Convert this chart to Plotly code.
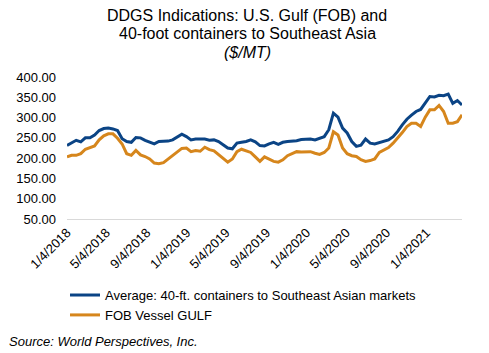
import pandas as pd
import plotly.graph_objects as go

# Biweekly observations starting 1/4/2018
start_date = "2018-01-04"
avg_se_asia = [
    231, 237, 244, 240, 250, 250, 257, 268, 273, 274, 272, 268, 248, 241, 239, 251,
    250, 244, 239, 235, 241, 241, 242, 245, 252, 259, 253, 245, 247, 247, 247, 244,
    245, 241, 234, 225, 223, 237, 239, 241, 245, 240, 231, 230, 235, 239, 234, 239,
    241, 242, 243, 246, 247, 247, 245, 250, 253, 270, 311, 301, 274, 262, 241, 229,
    232, 247, 237, 235, 238, 242, 245, 253, 266, 282, 296, 306, 315, 320, 335, 352,
    351, 355, 354, 358, 335, 342, 331,
]
fob_gulf = [
    203, 207, 207, 211, 222, 227, 230, 245, 255, 260, 260, 249, 235, 211, 207, 219,
    208, 204, 198, 188, 186, 189, 198, 207, 217, 224, 225, 216, 219, 217, 227, 221,
    218, 209, 198, 190, 198, 216, 222, 218, 214, 203, 192, 203, 198, 192, 190, 196,
    206, 212, 216, 215, 216, 216, 212, 209, 214, 225, 265, 257, 225, 211, 206, 204,
    196, 192, 194, 198, 214, 219, 226, 237, 249, 263, 278, 286, 286, 278, 301, 319,
    319, 330, 315, 286, 286, 290, 307,
]
dates = pd.date_range(start_date, periods=len(avg_se_asia), freq="14D")

tick_labels = ["1/4/2018", "5/4/2018", "9/4/2018", "1/4/2019", "5/4/2019",
               "9/4/2019", "1/4/2020", "5/4/2020", "9/4/2020", "1/4/2021"]
tick_dates = pd.to_datetime(tick_labels, format="%m/%d/%Y")
y_ticks = [50, 100, 150, 200, 250, 300, 350, 400]
title_lines = ["DDGS Indications: U.S. Gulf (FOB) and",
               "40-foot containers to Southeast Asia",
               "<i>($/MT)</i>"]

FONT = "Arial, Liberation Sans, sans-serif"
BLUE = "#0B4485"
ORANGE = "#D6861C"

fig = go.Figure()
fig.add_trace(go.Scatter(x=dates, y=avg_se_asia, mode="lines",
                         name="Average: 40-ft. containers to Southeast Asian markets",
                         line=dict(color=BLUE, width=3)))
fig.add_trace(go.Scatter(x=dates, y=fob_gulf, mode="lines",
                         name="FOB Vessel GULF",
                         line=dict(color=ORANGE, width=3)))

PLOT_TOP, PLOT_H, PLOT_L, PLOT_W = 77, 142, 67, 395
annotations = []
for txt, ypx in zip(title_lines, [15, 33.5, 52]):
    annotations.append(dict(
        text=txt, xref="paper", yref="paper",
        x=(247 - PLOT_L) / PLOT_W, xanchor="center",
        y=1 + (PLOT_TOP - ypx) / PLOT_H, yanchor="middle",
        showarrow=False,
        font=dict(family=FONT, size=16, color="#000000"),
    ))
annotations.append(dict(
    text="<i>Source: World Perspectives, Inc.</i>",
    xref="paper", yref="paper",
    x=-0.152, xanchor="left",
    y=-0.866, yanchor="middle",
    showarrow=False,
    font=dict(family=FONT, size=13, color="#000000"),
))

fig.update_layout(
    width=489, height=353,
    margin=dict(l=67, r=27, t=77, b=134),
    paper_bgcolor="white", plot_bgcolor="white",
    font=dict(family=FONT, size=13, color="#000000"),
    annotations=annotations,
    xaxis=dict(
        type="date",
        range=[dates[0], dates[-1]],
        tickvals=tick_dates, ticktext=tick_labels,
        tickangle=-45,
        showgrid=False, zeroline=False,
        showline=True, linecolor="#D9D9D9", linewidth=1,
        ticks="",
        tickfont=dict(size=13),
    ),
    yaxis=dict(
        range=[50, 400],
        tickvals=y_ticks, tickformat=".2f",
        showgrid=False, zeroline=False, showline=False,
        ticks="", ticklabelstandoff=10,
        tickfont=dict(size=13),
    ),
    showlegend=True,
    legend=dict(
        orientation="v",
        x=-0.005, xanchor="left",
        y=-0.43, yanchor="top",
        font=dict(size=13),
        bgcolor="rgba(0,0,0,0)",
        tracegroupgap=0,
    ),
)

fig.write_html("out.html")
